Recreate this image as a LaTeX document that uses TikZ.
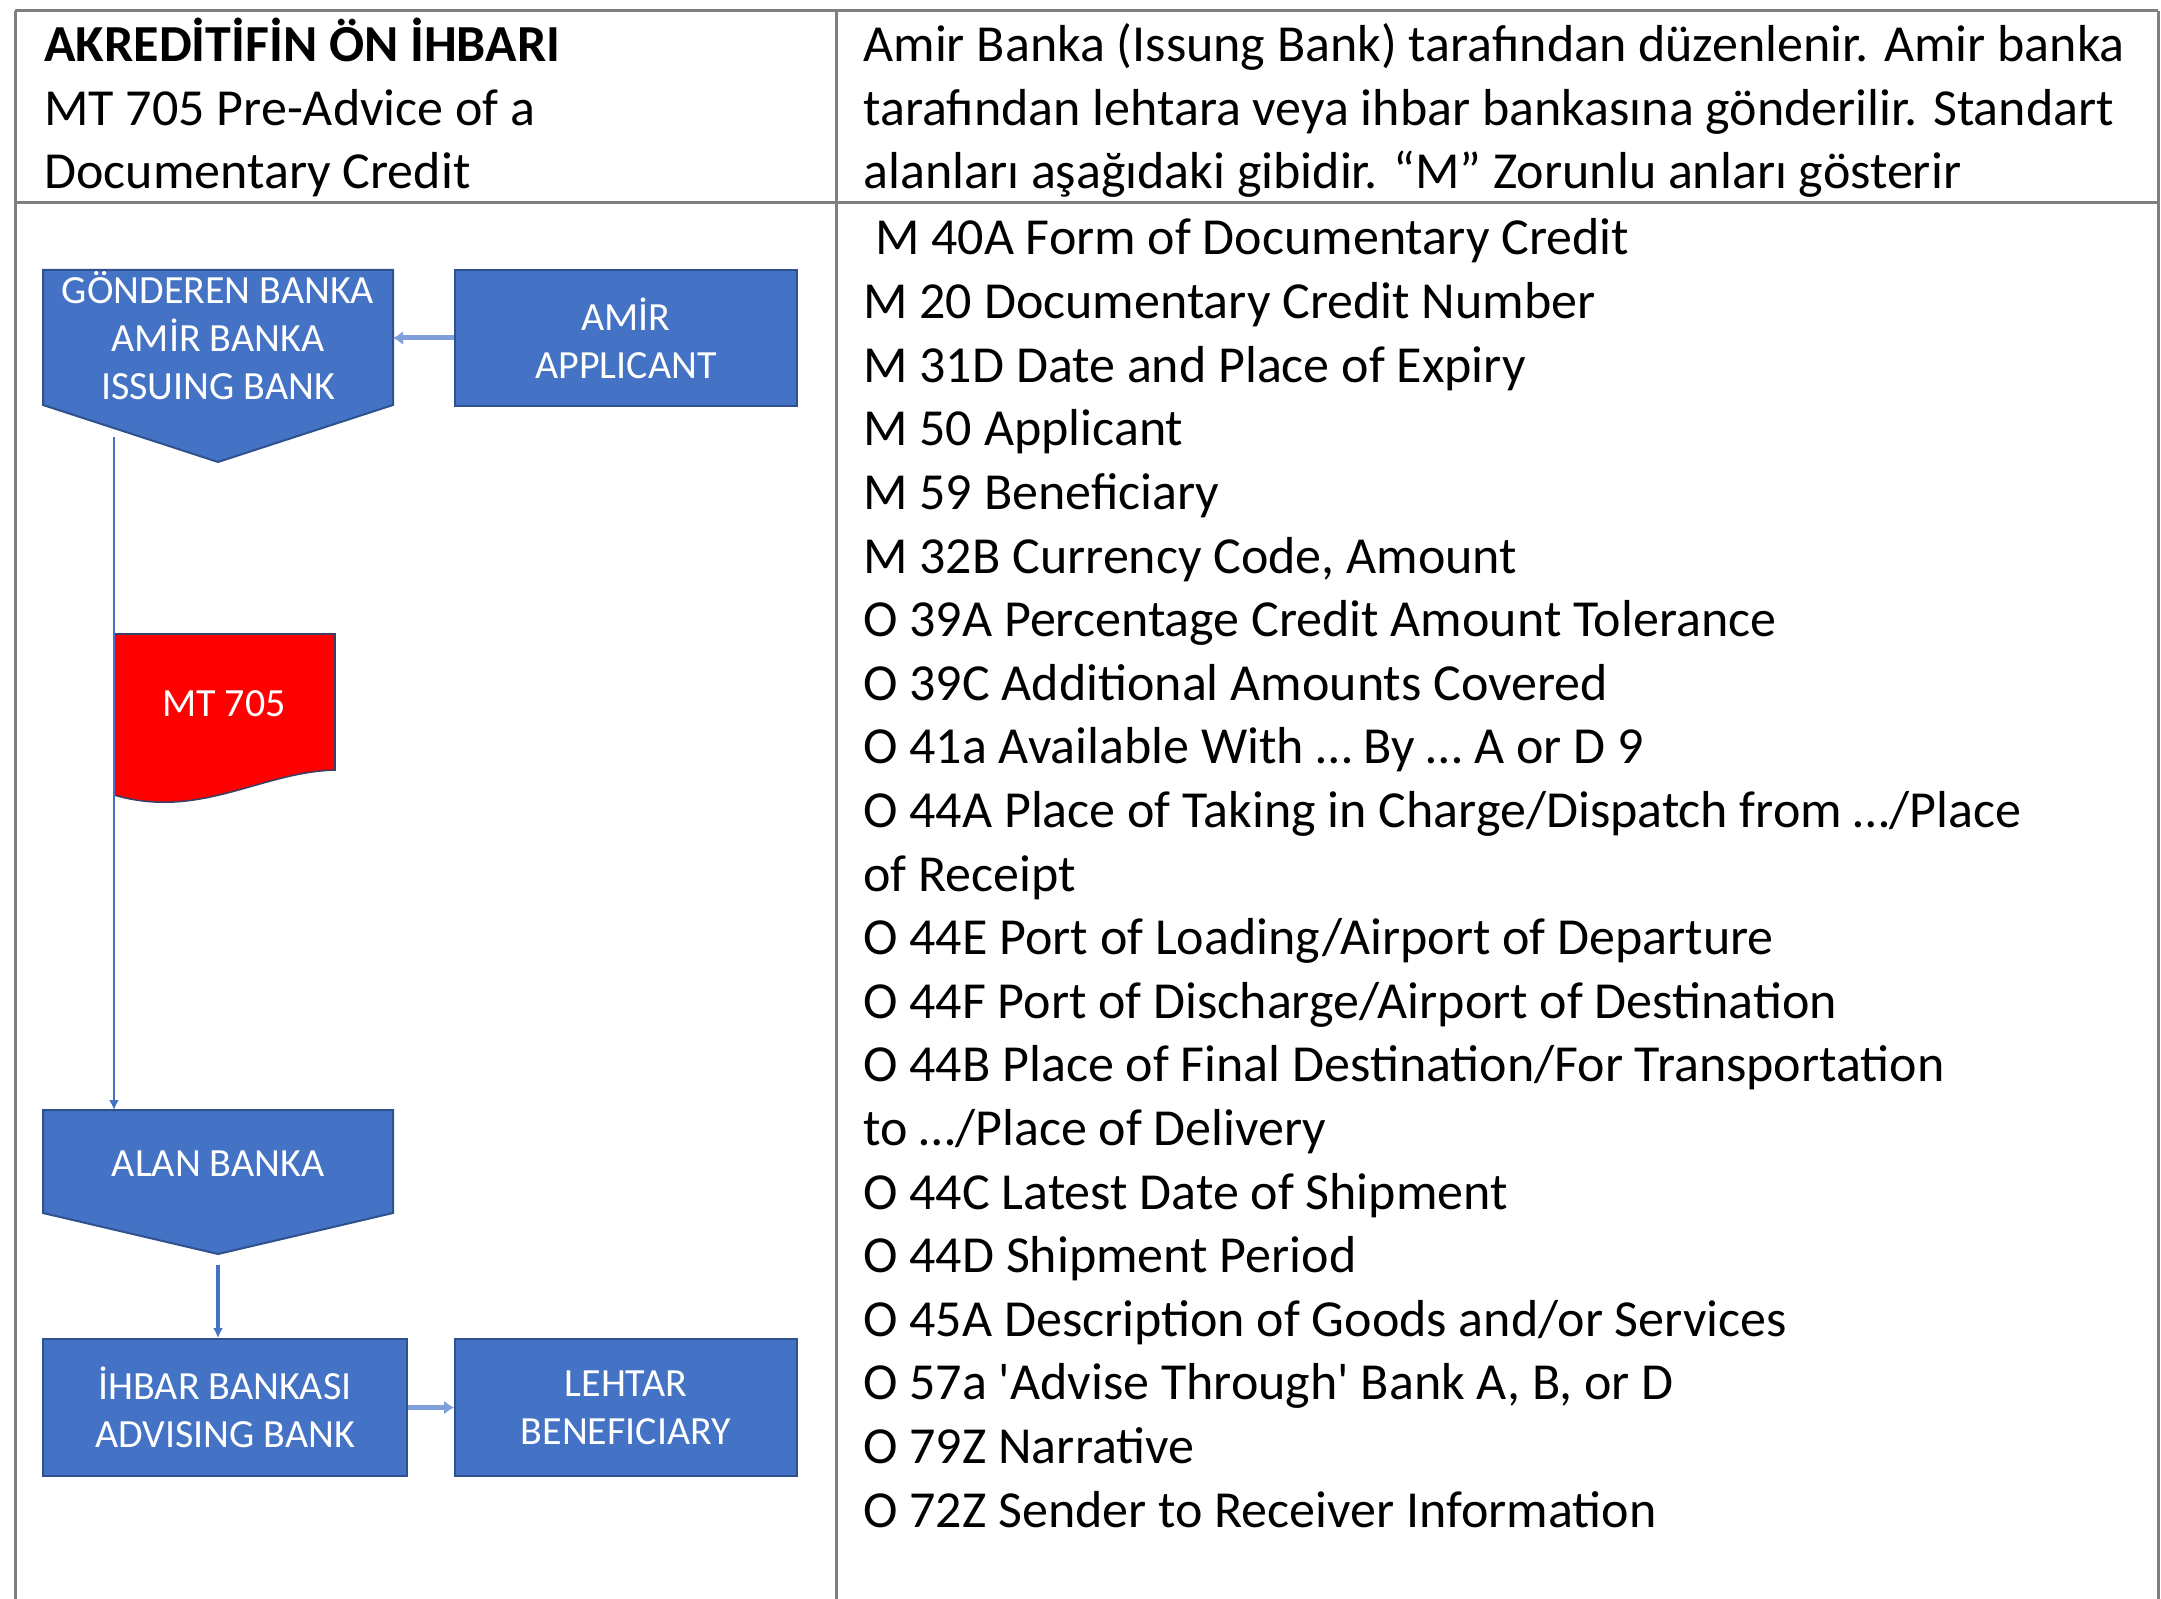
\documentclass[tikz,border=0pt]{standalone}
\usepackage{fontspec}
\setmainfont{Carlito}
\newfontfamily\cf{Carlito}
\usetikzlibrary{arrows.meta}
\definecolor{obl}{HTML}{4472C4}
\definecolor{obd}{HTML}{2F528F}
\definecolor{tgray}{HTML}{7F7F7F}
\definecolor{lbl}{HTML}{7F9FDA}
\definecolor{mtred}{HTML}{FF0000}
\definecolor{mtedge}{HTML}{3B3F63}
\begin{document}
\begin{tikzpicture}[x=0.5pt,y=-0.5pt,
  tline/.style={draw=tgray,line width=1.5pt},
  txt/.style={inner sep=0pt,anchor=base west,font=\cf\fontsize{26}{31.8}\selectfont},
  bluebox/.style={rectangle,fill=obl,draw=obd,line width=1pt,inner sep=0pt,text=white,align=center,font=\cf\fontsize{20}{24}\selectfont},
  shapetext/.style={inner sep=0pt,text=white,align=center,font=\cf\fontsize{20}{24}\selectfont},
  shapefill/.style={fill=obl,draw=obd,line width=1pt},
  conn/.style={draw=obl,line width=1pt,-{Latex[length=5pt,width=5pt]}},
  thickconn/.style={draw=lbl,line width=2.5pt,-{Latex[length=5pt,width=7pt]}},
]
\useasboundingbox (0,0) rectangle (2161,1599);
\fill[white] (0,0) rectangle (2161,1599);

% table rules
\draw[tline] (15,11) -- (2158,11);
\draw[tline] (15,203) -- (2158,203);
\draw[tline] (15,11) -- (15,1599);
\draw[tline] (836,11) -- (836,1599);
\draw[tline] (2158,11) -- (2158,1599);

% header left
\node[txt,font=\cf\fontsize{26}{31.8}\selectfont\bfseries] (t1) at (44,62) {AKREDİTİFİN ÖN İHBARI};
\node[txt] (t2) at (44,126) {MT 705 Pre-Advice of a};
\node[txt] (t3) at (44,189) {Documentary Credit};

% header right
\node[txt] (r1) at (863,62) {Amir Banka (Issung Bank) tarafından düzenlenir. Amir banka};
\node[txt] (r2) at (863,126) {tarafından lehtara veya ihbar bankasına gönderilir. Standart};
\node[txt] (r3) at (863,189) {alanları aşağıdaki gibidir. “M” Zorunlu anları gösterir};

% field list
\foreach \s [count=\i from 0] in {%
  {\ M 40A Form of Documentary Credit},
  {M 20 Documentary Credit Number},
  {M 31D Date and Place of Expiry},
  {M 50 Applicant},
  {M 59 Beneficiary},
  {M 32B Currency Code, Amount},
  {O 39A Percentage Credit Amount Tolerance},
  {O 39C Additional Amounts Covered},
  {O 41a Available With … By … A or D 9},
  {O 44A Place of Taking in Charge/Dispatch from …/Place},
  {of Receipt},
  {O 44E Port of Loading/Airport of Departure},
  {O 44F Port of Discharge/Airport of Destination},
  {O 44B Place of Final Destination/For Transportation},
  {to …/Place of Delivery},
  {O 44C Latest Date of Shipment},
  {O 44D Shipment Period},
  {O 45A Description of Goods and/or Services},
  {O 57a 'Advise Through' Bank A, B, or D},
  {O 79Z Narrative},
  {O 72Z Sender to Receiver Information}}
  \node[txt] (f\i) at (863,255+63.6*\i) {\s};

% GONDEREN pentagon
\path[shapefill] (43,270) -- (393,270) -- (393,405) -- (218,462) -- (43,405) -- cycle;
\node[shapetext] (gon) at (218,336) {GÖNDEREN BANKA\\AMİR BANKA\\ISSUING BANK};
\coordinate (gonE) at (393,338);
\coordinate (gonS) at (114,437);

% AMIR
\node[bluebox,minimum width=171pt,minimum height=68pt] (amir) at (626,338) {AMİR\\APPLICANT};

% MT 705 document
\path[fill=mtred,draw=mtedge,line width=0.8pt] (114,634) -- (335,634) -- (335,770)
   .. controls (260,772) and (200,820) .. (114,795) -- cycle;
\node[shapetext] (mt) at (224,704) {MT 705};

% ALAN BANKA pentagon
\path[shapefill] (43,1110) -- (393,1110) -- (393,1213) -- (218,1254) -- (43,1213) -- cycle;
\node[shapetext] (alan) at (218,1164) {ALAN BANKA};
\coordinate (alanN) at (114,1110);
\coordinate (alanS) at (218,1265);

% IHBAR and LEHTAR
\node[bluebox,minimum width=182pt,minimum height=68.5pt] (ihbar) at (225,1407.5) {İHBAR BANKASI\\ADVISING BANK};
\node[bluebox,minimum width=171pt,minimum height=68.5pt] (lehtar) at (626,1407.5) {LEHTAR\\BENEFICIARY};

% connectors
\draw[thickconn] (amir.west) -- (gonE);
\draw[conn] (gonS) -- (alanN);
\draw[conn,line width=2pt] (alanS) -- (alanS |- ihbar.north);
\draw[thickconn] (ihbar.east) -- (lehtar.west);
\end{tikzpicture}
\end{document}
